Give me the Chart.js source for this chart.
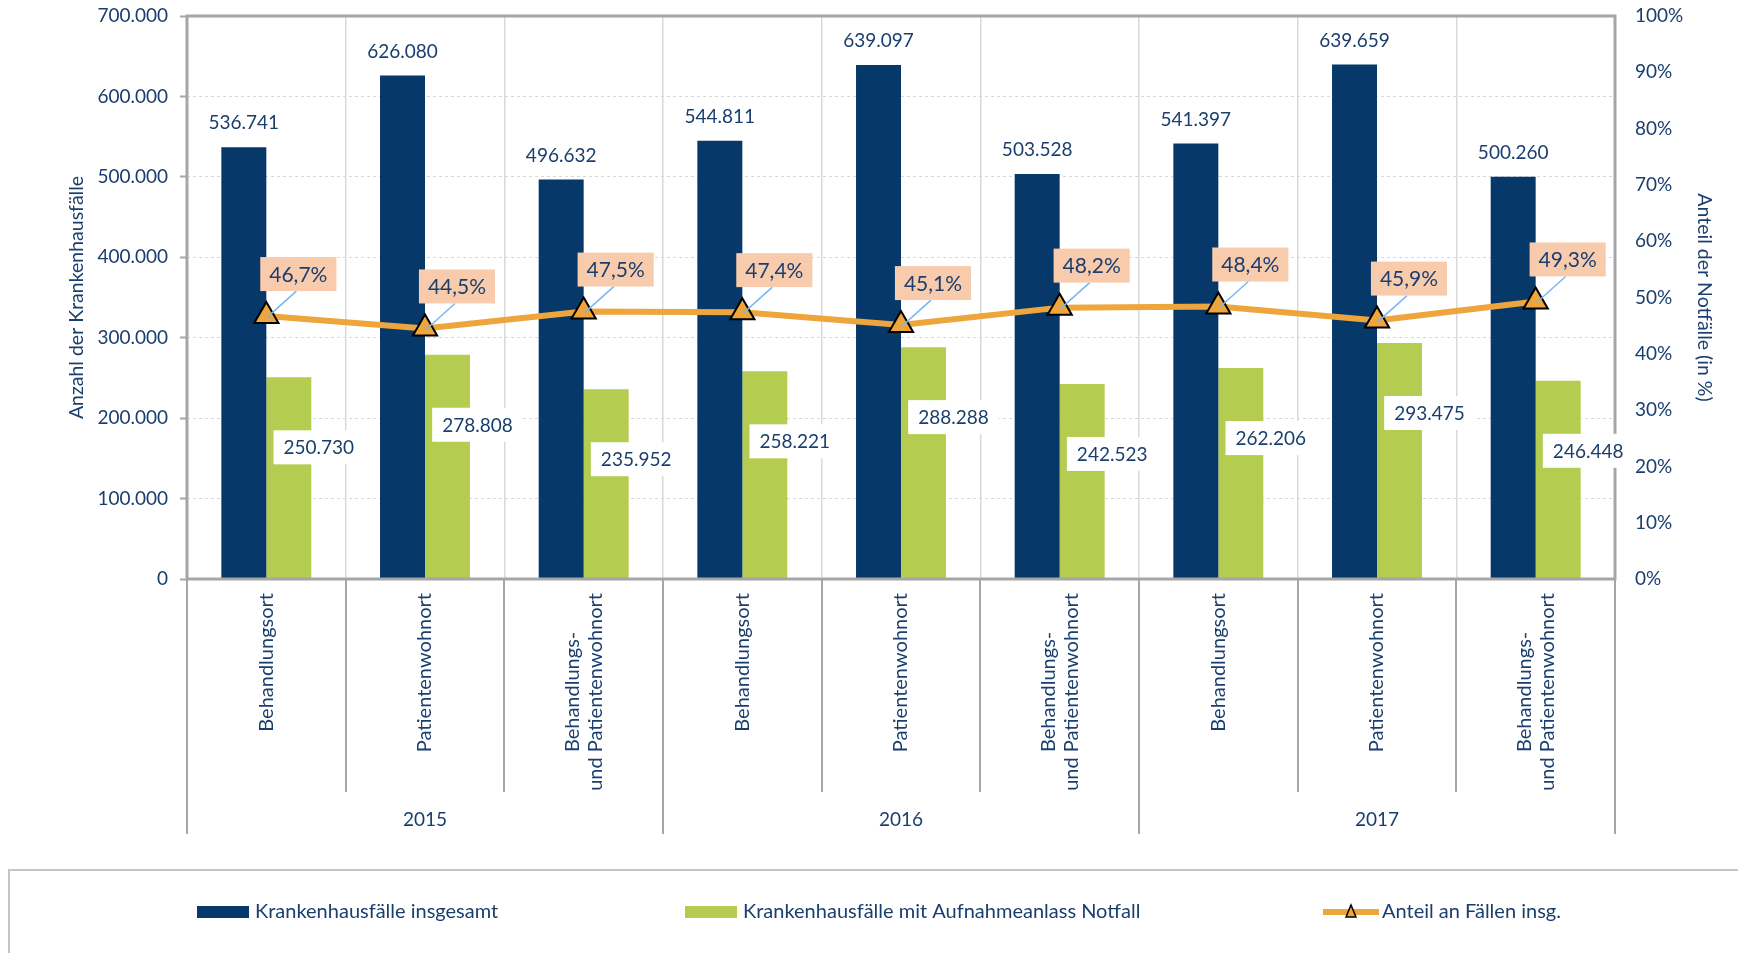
<!DOCTYPE html>
<html lang="de">
<head>
<meta charset="utf-8">
<title>Krankenhausfälle und Notfälle</title>
<script src="https://cdn.jsdelivr.net/npm/chart.js@4.4.1/dist/chart.umd.min.js"></script>
<style>
  html, body { margin: 0; padding: 0; background: #fff; }
  #wrap { width: 1738px; height: 953px; position: relative; }
</style>
</head>
<body>
<div id="wrap"><canvas id="chart"></canvas></div>
<script>
const categories = [
    "Behandlungsort", "Patientenwohnort", ["Behandlungs-", "und Patientenwohnort"],
    "Behandlungsort", "Patientenwohnort", ["Behandlungs-", "und Patientenwohnort"],
    "Behandlungsort", "Patientenwohnort", ["Behandlungs-", "und Patientenwohnort"]
];
const years = ["2015", "2016", "2017"];
const totalCases = [536741, 626080, 496632, 544811, 639097, 503528, 541397, 639659, 500260];
const emergencyCases = [250730, 278808, 235952, 258221, 288288, 242523, 262206, 293475, 246448];
const emergencyShare = [46.7, 44.5, 47.5, 47.4, 45.1, 48.2, 48.4, 45.9, 49.3];
const countTicks = { min: 0, max: 700000, step: 100000 };
const shareTicks = { min: 0, max: 100, step: 10 };

const NAVY = "#06386A";
const GREEN = "#B4CC50";
const ORANGE = "#EEA53C";
const TEXT = "#1A3E6E";
const AXIS = "#A6A6A6";
const FONT = "Lato";

Chart.defaults.font.family = FONT;
Chart.defaults.color = TEXT;

function fmtNum(v) {
    return String(v).replace(/\B(?=(\d{3})+(?!\d))/g, ".");
}
function fmtPct(v) {
    return v.toFixed(1).replace(".", ",") + "%";
}

function labelBox(ctx, text, cx, cy, fill, padX) {
    const w = ctx.measureText(text).width + padX * 2;
    const h = 34;
    ctx.fillStyle = fill;
    ctx.fillRect(cx - w / 2, cy - h / 2, w, h);
    ctx.fillStyle = TEXT;
    ctx.fillText(text, cx, cy + 1);
}

// the tick labels push the chart area in by half a line; keep it where layout.padding puts it
function noLabelPadding(scale) {
    scale.paddingTop = 0;
    scale.paddingBottom = 0;
}

// frame, value labels, multi-level axis and legend
const decorations = {
    id: "decorations",
    afterDatasetsDraw(chart) {
        const ctx = chart.ctx;
        const a = chart.chartArea;

        ctx.save();
        ctx.strokeStyle = AXIS;
        ctx.lineWidth = 3;
        ctx.strokeRect(a.left, a.top, a.right - a.left, a.bottom - a.top);

        ctx.textAlign = "center";
        ctx.textBaseline = "middle";

        // totals above the navy bars
        ctx.font = "19px " + FONT;
        chart.getDatasetMeta(1).data.forEach((bar, i) => {
            ctx.fillStyle = TEXT;
            ctx.fillText(fmtNum(totalCases[i]), bar.x, bar.y - 24);
        });

        // emergency counts in white boxes
        chart.getDatasetMeta(2).data.forEach((bar, i) => {
            labelBox(ctx, fmtNum(emergencyCases[i]), bar.x + 30, bar.y + 70, "#FFFFFF", 10);
        });

        // share labels with leader lines
        ctx.font = "21px " + FONT;
        chart.getDatasetMeta(0).data.forEach((pt, i) => {
            const cx = pt.x + 32;
            const cy = pt.y - 42;
            ctx.strokeStyle = "#74B8F5";
            ctx.lineWidth = 1.5;
            ctx.beginPath();
            ctx.moveTo(pt.x + 1, pt.y + 1);
            ctx.lineTo(cx - 2, cy + 17);
            ctx.stroke();
            labelBox(ctx, fmtPct(emergencyShare[i]), cx, cy, "#F8CBAD", 9);
        });
        ctx.restore();
    },
    afterDraw(chart) {
        const ctx = chart.ctx;
        const a = chart.chartArea;
        const xs = chart.scales.x;
        ctx.save();

        // separators of the category axis
        ctx.strokeStyle = AXIS;
        ctx.lineWidth = 2;
        for (let i = 0; i <= categories.length; i++) {
            const px = Math.round(xs.getPixelForValue(i - 0.5));
            const bottom = i % 3 === 0 ? 834 : 792;
            ctx.beginPath();
            ctx.moveTo(px, a.bottom);
            ctx.lineTo(px, bottom);
            ctx.stroke();
        }

        // rotated category labels, each block centred on its category
        ctx.fillStyle = TEXT;
        ctx.font = "20px " + FONT;
        ctx.textAlign = "center";
        ctx.textBaseline = "middle";
        categories.forEach((lab, i) => {
            const lines = Array.isArray(lab) ? lab : [lab];
            const maxW = Math.max(...lines.map(l => ctx.measureText(l).width));
            const cx = xs.getPixelForValue(i);
            const cy = a.bottom + 14 + maxW / 2;
            lines.forEach((line, j) => {
                const off = (j - (lines.length - 1) / 2) * 23;
                ctx.save();
                ctx.translate(cx + off, cy);
                ctx.rotate(-Math.PI / 2);
                ctx.fillText(line, 0, 0);
                ctx.restore();
            });
        });

        ctx.font = "19px " + FONT;
        years.forEach((y, k) => {
            ctx.fillText(y, xs.getPixelForValue(k * 3 + 1), 820);
        });

        // legend box
        ctx.strokeStyle = "#C4C4C4";
        ctx.lineWidth = 2;
        ctx.beginPath();
        ctx.moveTo(9, 953);
        ctx.lineTo(9, 870);
        ctx.lineTo(1738, 870);
        ctx.stroke();

        const ds = chart.data.datasets;
        const ly = 912;
        ctx.font = "20px " + FONT;
        ctx.textAlign = "left";

        ctx.fillStyle = ds[1].backgroundColor;
        ctx.fillRect(197, ly - 6, 52, 12);
        ctx.fillStyle = TEXT;
        ctx.fillText(ds[1].label, 255, ly);

        ctx.fillStyle = ds[2].backgroundColor;
        ctx.fillRect(685, ly - 6, 52, 12);
        ctx.fillStyle = TEXT;
        ctx.fillText(ds[2].label, 743, ly);

        ctx.strokeStyle = ds[0].borderColor;
        ctx.lineWidth = 6;
        ctx.beginPath();
        ctx.moveTo(1323, ly);
        ctx.lineTo(1379, ly);
        ctx.stroke();
        ctx.fillStyle = ds[0].pointBackgroundColor;
        ctx.strokeStyle = "#000";
        ctx.lineWidth = 1.5;
        ctx.beginPath();
        ctx.moveTo(1351, ly - 7);
        ctx.lineTo(1356, ly + 5);
        ctx.lineTo(1346, ly + 5);
        ctx.closePath();
        ctx.fill();
        ctx.stroke();
        ctx.fillStyle = TEXT;
        ctx.fillText(ds[0].label, 1382, ly);

        ctx.restore();
    }
};

new Chart(document.getElementById("chart"), {
    data: {
        labels: categories,
        datasets: [
            {
                type: "line",
                label: "Anteil an Fällen insg.",
                data: emergencyShare,
                yAxisID: "y2",
                order: 0,
                borderColor: ORANGE,
                borderWidth: 6,
                tension: 0,
                pointStyle: "triangle",
                pointRadius: 14,
                pointBackgroundColor: ORANGE,
                pointBorderColor: "#000000",
                pointBorderWidth: 2
            },
            {
                type: "bar",
                label: "Krankenhausfälle insgesamt",
                data: totalCases,
                yAxisID: "y",
                order: 1,
                backgroundColor: NAVY,
                categoryPercentage: 0.567,
                barPercentage: 1
            },
            {
                type: "bar",
                label: "Krankenhausfälle mit Aufnahmeanlass Notfall",
                data: emergencyCases,
                yAxisID: "y",
                order: 2,
                backgroundColor: GREEN,
                categoryPercentage: 0.567,
                barPercentage: 1
            }
        ]
    },
    options: {
        responsive: true,
        maintainAspectRatio: false,
        animation: false,
        events: [],
        layout: { padding: { top: 16, bottom: 119, left: 0, right: 0 } },
        plugins: {
            legend: { display: false },
            tooltip: { enabled: false }
        },
        scales: {
            x: {
                offset: true,
                grid: { offset: true, color: "#D9D9D9", lineWidth: 1.5, drawTicks: false },
                border: { display: false },
                ticks: { display: false },
                afterFit(scale) {
                    scale.height = 255;
                    scale.paddingLeft = 0;
                    scale.paddingRight = 0;
                }
            },
            y: {
                position: "left",
                min: countTicks.min,
                max: countTicks.max,
                ticks: {
                    stepSize: countTicks.step,
                    padding: 12,
                    color: TEXT,
                    font: { size: 19 },
                    callback: v => fmtNum(v)
                },
                grid: {
                    color: "#D9D9D9",
                    lineWidth: 1,
                    tickColor: AXIS,
                    tickLength: 7,
                    tickWidth: 2,
                    tickBorderDash: []
                },
                border: { display: false, dash: [3, 3] },
                title: {
                    display: true,
                    text: "Anzahl der Krankenhausfälle",
                    color: TEXT,
                    font: { size: 19.5 },
                    padding: { top: 65, bottom: 0 }
                },
                afterFit(scale) {
                    scale.width = 187;
                    noLabelPadding(scale);
                }
            },
            y2: {
                position: "right",
                min: shareTicks.min,
                max: shareTicks.max,
                ticks: {
                    stepSize: shareTicks.step,
                    padding: 20,
                    color: TEXT,
                    font: { size: 19 },
                    callback: v => v + "%"
                },
                grid: { drawOnChartArea: false, drawTicks: false },
                border: { display: false },
                title: {
                    display: true,
                    text: "Anteil der Notfälle (in %)",
                    color: TEXT,
                    font: { size: 19.5 },
                    padding: { top: 22, bottom: 0 }
                },
                afterFit(scale) {
                    scale.width = 123;
                    noLabelPadding(scale);
                }
            }
        }
    },
    plugins: [decorations]
});
</script>
</body>
</html>
